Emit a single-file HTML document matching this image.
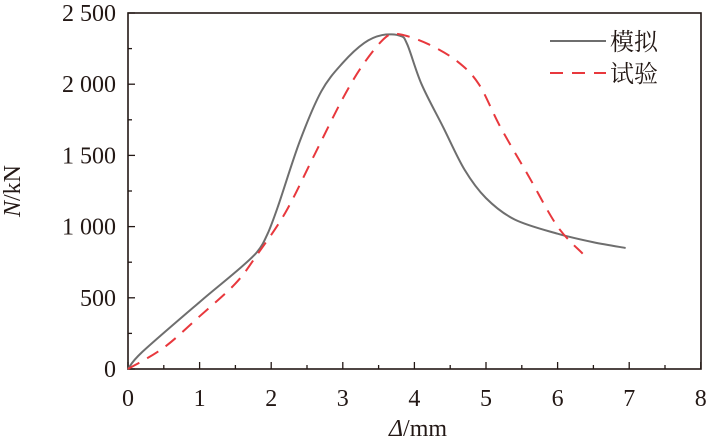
<!DOCTYPE html>
<html><head><meta charset="utf-8"><style>
body{margin:0;background:#fff;width:709px;height:437px;overflow:hidden}
svg text{font-family:"Liberation Serif","Noto Serif CJK SC",serif;fill:#231815}
</style></head><body>
<svg width="709" height="437" viewBox="0 0 709 437" xmlns="http://www.w3.org/2000/svg">
<g id="plot"></g>
</svg>
<script>
const g=document.getElementById('plot');
const X=d=>128+d*71.6, Y=n=>369-n*0.1424;
let s='';
s+='<rect x="128" y="13" width="573" height="356" fill="none" stroke="#231815" stroke-width="1.6"/>';
for(let i=0;i<=16;i++){const x=X(i/2);const L=i%2?4:7;s+=`<line x1="${x}" y1="369" x2="${x}" y2="${369-L}" stroke="#231815" stroke-width="1.3"/>`;}
for(let i=0;i<=20;i++){const y=Y(i*125);if(i%2)continue;const L=(i%4)?4:7;s+=`<line x1="128" y1="${y}" x2="${128+L}" y2="${y}" stroke="#231815" stroke-width="1.3"/>`;}
for(let i=0;i<=8;i++)s+=`<text x="${X(i)}" y="406" font-size="24" text-anchor="middle">${i}</text>`;
const yl=['0','500','1 000','1 500','2 000','2 500'];
yl.forEach((t,i)=>{s+=`<text x="116" y="${Y(i*500)+8}" font-size="24" text-anchor="end">${t}</text>`;});
s+='<text x="418" y="436" font-size="24" text-anchor="middle"><tspan font-style="italic">Δ</tspan>/mm</text>';
s+='<text transform="translate(20,191) rotate(-90)" font-size="24" text-anchor="middle"><tspan font-style="italic">N</tspan>/kN</text>';
const sim=[[0,0],[0.2,120],[1,470],[1.5,680],[1.8,820],[1.95,950],[2.1,1150],[2.4,1600],[2.7,1950],[3,2150],[3.3,2290],[3.55,2345],[3.8,2340],[3.9,2280],[4.1,2000],[4.4,1700],[4.7,1400],[5,1200],[5.4,1050],[6,950],[6.5,890],[6.95,850]];
const tst=[[0,0],[0.5,150],[1,370],[1.5,600],[1.8,800],[2.2,1100],[2.6,1500],[3,1900],[3.3,2150],[3.6,2330],[3.8,2350],[4.2,2280],[4.6,2160],[4.9,2000],[5.2,1700],[5.6,1350],[6,1000],[6.35,810]];
function path(p){
 const q=p.map(a=>[X(a[0]),Y(a[1])]);let d=`M${q[0][0]},${q[0][1]}`;
 for(let i=0;i<q.length-1;i++){const p0=q[i-1]||q[i],p1=q[i],p2=q[i+1],p3=q[i+2]||p2;
 d+=`C${p1[0]+(p2[0]-p0[0])/6},${p1[1]+(p2[1]-p0[1])/6} ${p2[0]-(p3[0]-p1[0])/6},${p2[1]-(p3[1]-p1[1])/6} ${p2[0]},${p2[1]}`;}
 return d;}
s+=`<path d="${path(sim)}" fill="none" stroke="#6e6e6e" stroke-width="2"/>`;
s+=`<path d="${path(tst)}" fill="none" stroke="#e8383d" stroke-width="2" stroke-dasharray="13,9"/>`;
s+='<line x1="550" y1="41" x2="606" y2="41" stroke="#6e6e6e" stroke-width="2"/>';
s+='<line x1="550" y1="73" x2="606" y2="73" stroke="#e8383d" stroke-width="2" stroke-dasharray="13,9"/>';
s+='<text x="610" y="50" font-size="24" font-family="Noto Serif CJK SC,serif">模拟</text>';
s+='<text x="610" y="82" font-size="24" font-family="Noto Serif CJK SC,serif">试验</text>';
g.innerHTML=s;
</script>
</body></html>
